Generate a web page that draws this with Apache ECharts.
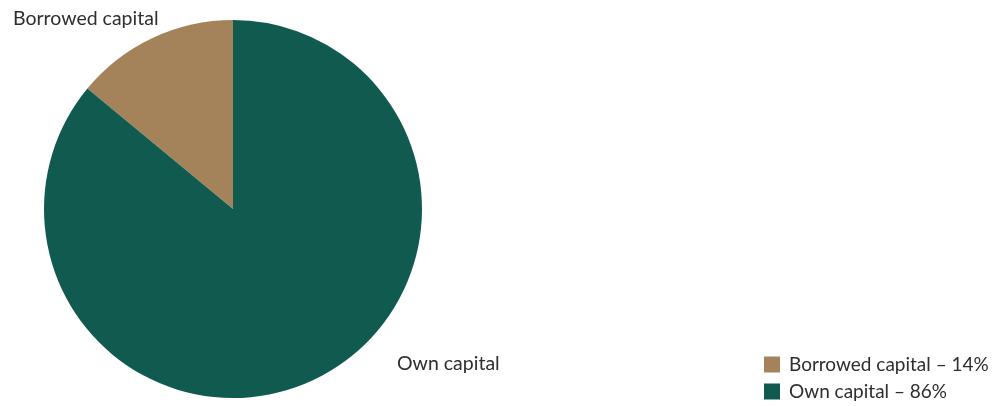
<!DOCTYPE html>
<html>
<head>
<meta charset="utf-8">
<script src="https://cdn.jsdelivr.net/npm/echarts@6/dist/echarts.min.js"></script>
<style>
  html, body { margin: 0; padding: 0; background: #fff; }
  #chart { width: 1006px; height: 406px; }
</style>
</head>
<body>
<div id="chart"></div>
<script>
  var chart = echarts.init(document.getElementById('chart'));

  var names = ['Borrowed capital', 'Own capital'];
  var values = [14, 86];
  var colors = ['#a5835a', '#115a50'];

  var pieData = [];
  for (var i = 0; i < names.length; i++) {
    pieData.push({ name: names[i], value: values[i], itemStyle: { color: colors[i] } });
  }

  // where the two slice labels sit in the picture
  var labelSpots = [
    { x: 13, y: 19 },
    { x: 397, y: 364 }
  ];

  var option = {
    animation: false,
    textStyle: { fontFamily: 'Lato' },
    legend: {
      orient: 'vertical',
      left: 764,
      top: 355,
      width: 240,
      height: 80,
      padding: 0,
      itemWidth: 16,
      itemHeight: 16,
      itemGap: 8,
      icon: 'rect',
      data: names,
      formatter: function (name) {
        var idx = names.indexOf(name);
        return name + ' \u2013 ' + values[idx] + '%';
      },
      textStyle: { fontFamily: 'Lato', fontSize: 19, color: '#2e2e2e', padding: [0, 0, 0, 4] }
    },
    series: [{
      type: 'pie',
      center: [233, 209],
      radius: 189,
      startAngle: 90,
      clockwise: false,
      silent: true,
      data: pieData,
      label: {
        show: true,
        position: 'outside',
        formatter: '{b}',
        overflow: 'none',
        width: 300,
        fontFamily: 'Lato',
        fontSize: 19.5,
        color: '#2e2e2e'
      },
      labelLine: { show: false },
      labelLayout: function (params) {
        var s = labelSpots[params.dataIndex];
        return { x: s.x, y: s.y, align: 'left', verticalAlign: 'middle' };
      }
    }]
  };

  chart.setOption(option);
</script>
</body>
</html>
